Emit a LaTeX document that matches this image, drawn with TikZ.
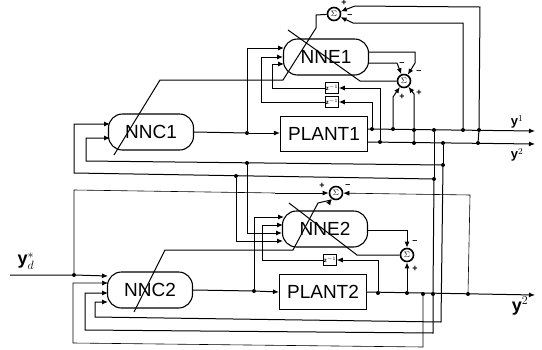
\documentclass[tikz,border=0pt]{standalone}
\usepackage{xcolor}
\usepackage{fontspec}
\setmainfont{Liberation Sans}
\usepackage{tikz}
\usetikzlibrary{arrows.meta,positioning}

\begin{document}
\begin{tikzpicture}[
  x=1pt, y=-1pt,
  every node/.style={font=\fontsize{19}{20}\selectfont},
  netbox/.style={draw, line width=1.1pt, rounded corners=14pt, minimum width=85pt, minimum height=36pt, inner sep=0pt},
  plantbox/.style={draw, line width=1.1pt, minimum width=87pt, minimum height=35pt, inner sep=0pt},
  delaybox/.style={draw, line width=1.2pt, minimum width=12pt, minimum height=11pt, inner sep=0pt, font=\fontsize{6}{6}\selectfont\bfseries},
  sumnode/.style={draw, line width=1.6pt, circle, minimum size=13pt, inner sep=0pt, font=\fontsize{8}{8}\selectfont\bfseries},
  signlab/.style={font=\fontsize{9}{9}\selectfont\bfseries, inner sep=0pt},
  outlabel/.style={font=\fontsize{13}{13}\selectfont\bfseries, inner sep=0pt},
  biglabel/.style={font=\fontsize{18}{18}\selectfont\bfseries, inner sep=0pt},
  dotj/.style={circle, fill, inner sep=0pt, minimum size=4pt},
  edge/.style={-{Latex[length=6pt,width=5pt]}, line width=1pt},
  wire/.style={line width=1pt},
  thinwire/.style={line width=0.6pt}
]
\useasboundingbox (0,0) rectangle (542,349);

% upper loop
\node[netbox] (nnc1) at (151,132) {NNC1};
\node[netbox] (nne1) at (326,57) {NNE1};
\node[plantbox] (plant1) at (324,134) {PLANT1};
\node[sumnode] (sum1) at (334,14) {$\Sigma$};
\node[sumnode] (sum2) at (404,81) {$\Sigma$};
\node[delaybox] (delay1) at (332,88) {z$^{-1}$};
\node[delaybox] (delay2) at (332,102) {z$^{-1}$};

% lower loop
\node[netbox] (nnc2) at (150,290) {NNC2};
\node[netbox] (nne2) at (325,229) {NNE2};
\node[plantbox] (plant2) at (323,292) {PLANT2};
\node[sumnode] (sum3) at (336,193) {$\Sigma$};
\node[sumnode] (sum4) at (407,255) {$\Sigma$};
\node[delaybox] (delay3) at (330,260) {z$^{-1}$};

% labels
\node[outlabel] (y1lab) at (517,122) {y$^{1}$};
\node[outlabel] (y2lab) at (517,155) {y$^{2}$};
\node[biglabel] (y3lab) at (520,306) {y$^{2}$};
\node[biglabel] (ydlab) at (26,261) {y$^{*}_{d}$};
\node[signlab] (p1) at (344,3) {+};
\node[signlab] (m1) at (350,16) {--};
\node[signlab] (m2) at (402,64) {--};
\node[signlab] (m3) at (419,72) {--};
\node[signlab] (p2) at (402,97) {+};
\node[signlab] (p3) at (419,93) {+};
\node[signlab] (p4) at (322,186) {+};
\node[signlab] (m4) at (348,186) {--};
\node[signlab] (m5) at (415,242) {--};
\node[signlab] (p5) at (415,269) {+};

% free ends
\coordinate (y1end) at (535,131);
\coordinate (y2end) at (535,144);
\coordinate (y3end) at (535,295);
\coordinate (ydstart) at (10,275);

% junctions
\node[dotj] (a1) at (247,133) {};
\node[dotj] (o1) at (372,129) {};
\node[dotj] (o2) at (393,129) {};
\node[dotj] (o3) at (414,130) {};
\node[dotj] (o4) at (434,130) {};
\node[dotj] (o5) at (463,130) {};
\node[dotj] (o6) at (479,130) {};
\node[dotj] (t1) at (380,142) {};
\node[dotj] (t2) at (414,143) {};
\node[dotj] (t3) at (443,143) {};
\node[dotj] (t4) at (478,143) {};
\node[dotj] (f1) at (247,163) {};
\node[dotj] (f2) at (443,165) {};
\node[dotj] (f3) at (236,176) {};
\node[dotj] (f4) at (434,179) {};
\node[dotj] (yd) at (74,275) {};
\node[dotj] (a2) at (254,291) {};
\node[dotj] (b1) at (378,293) {};
\node[dotj] (b2) at (407,293) {};
\node[dotj] (b3) at (423,294) {};
\node[dotj] (b4) at (433,294) {};
\node[dotj] (b5) at (468,294) {};

% plant 1
\draw[wire] (nnc1.east) -- (a1);
\draw[edge] (a1) -- (plant1.west |- a1);
\draw[edge] (plant1.east |- o1) -- (y1end);
\draw[edge] (plant1.east |- t1) -- (y2end);

% emulator 1 inputs
\draw[edge] (a1) |- (284,48);
\draw[edge] (delay2.west) -- (261,102) |- (283,57);
\draw[edge] (delay1.west) -- (272,88) |- (284,64);
\draw[edge] (o1) |- (delay2.east);
\draw[edge] (t1) |- (delay1.east);

% error sums 1
\draw[edge] (nne1.east |- 0,52) -- (415,52) -- (415,63) -- (sum2);
\draw[edge] (nne1.east |- 0,63) -- (397,63) -- (sum2);
\draw[edge] (o2) -- (393,97) -- (sum2);
\draw[edge] (t2) -- (o3) -- (414,94) -- (sum2);
\draw[edge] (o6) -- (480,7) -- (355,6) -- (sum1);
\draw[edge] (o5) -- (463,23) -- (353,23) -- (sum1);
\draw[wire] (o6) -- (t4);

% crossing weight lines
\draw[wire] (114,155) -- (160,80) -- (283,80) -- (316,28) -- (316,15) -- (sum1);
\draw[wire] (288,30) -- (360,81) -- (sum2);
\draw[wire] (134,312) -- (165,250) -- (293,250) -- (318,203) -- (331,200);
\draw[wire] (289,203) -- (357,255) -- (sum4);
\draw[edge] (331,200) -- (sum3);

% controller 1 feedback
\draw[edge] (f2) -- (86,161) -- (86,138) -- (110,138);
\draw[edge] (f4) -- (74,173) -- (74,124) -- (110,124);
\draw[wire] (t3) -- (f2);
\draw[wire] (o4) -- (f4);

% emulator 2 inputs
\draw[edge] (f1) |- (282,233);
\draw[edge] (f3) |- (283,241);
\draw[edge] (a2) |- (284,217);
\draw[edge] (delay3.west) -- (262,260) |- (283,225);
\draw[edge] (b1) |- (delay3.east);

% plant 2
\draw[wire] (nnc2.east) -- (a2);
\draw[edge] (a2) -- (plant2.west);
\draw[edge] (plant2.east) -- (y3end);

% error sums 2
\draw[edge] (nne2.east |- 0,230) -- (407,230) -- (sum4);
\draw[edge] (b2) -- (sum4);
\draw[thinwire] (yd) -- (74,190) -- (275,193);
\draw[edge] (275,193) -- (sum3);
\draw[edge, thinwire] (b5) -- (470,195) -- (sum3);

% controller 2 inputs
\draw[edge] (ydstart) -- (yd) -- (108,276);
\draw[edge, thinwire] (b3) -- (423,347) -- (73,343) -- (73,283) -- (108,283);
\draw[edge] (f4) -- (b4) -- (433,333) -- (85,330) -- (85,293) -- (108,293);
\draw[edge] (f2) -- (441,322) -- (95,317) -- (95,302) -- (108,302);
\end{tikzpicture}
\end{document}
